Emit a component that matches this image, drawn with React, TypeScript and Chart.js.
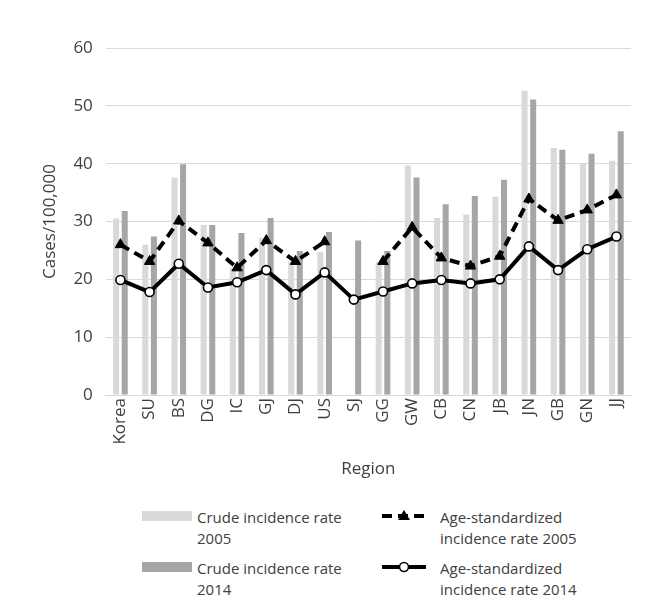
import React, { useEffect, useRef } from "react";
import { Chart, registerables } from "chart.js";

Chart.register(...registerables);

const categories = ["Korea", "SU", "BS", "DG", "IC", "GJ", "DJ", "US", "SJ", "GG", "GW", "CB", "CN", "JB", "JN", "GB", "GN", "JJ"];
const crude2005 = [30.5, 26.0, 37.6, 29.4, 22.0, 27.2, 23.1, 24.7, null, 23.0, 39.7, 30.6, 31.2, 34.3, 52.6, 42.7, 40.1, 40.5];
const crude2014 = [31.8, 27.4, 39.9, 29.4, 28.0, 30.6, 24.9, 28.2, 26.7, 24.9, 37.6, 33.0, 34.4, 37.2, 51.1, 42.4, 41.7, 45.6];
const ageStd2005 = [26.0, 23.1, 30.1, 26.3, 22.0, 26.7, 23.1, 26.5, null, 23.1, 29.0, 23.7, 22.3, 24.0, 33.9, 30.2, 32.0, 34.6];
const ageStd2014 = [19.9, 17.8, 22.7, 18.6, 19.5, 21.6, 17.4, 21.2, 16.5, 17.9, 19.3, 19.9, 19.3, 20.0, 25.7, 21.6, 25.2, 27.4];
const yTicks = [0, 10, 20, 30, 40, 50, 60];
const seriesLabels = ["Crude incidence rate 2005", "Crude incidence rate 2014", "Age-standardized incidence rate 2005", "Age-standardized incidence rate 2014"];

const FONT = "'Open Sans', 'DejaVu Sans', sans-serif";
const TEXT = "#404040";
const LIGHT = "#d9d9d9";
const DARK = "#a6a6a6";

function splitLabel(s: string): [string, string] {
  const i = s.lastIndexOf(" ");
  return [s.slice(0, i), s.slice(i + 1)];
}

export default function App() {
  const ref = useRef<HTMLCanvasElement | null>(null);
  useEffect(() => {
    if (!ref.current) return;
    const chart = new Chart(ref.current, {
      type: "bar",
      data: {
        labels: categories,
        datasets: [
          {
            type: "line",
            label: seriesLabels[2],
            data: ageStd2005,
            borderColor: "#000",
            backgroundColor: "#000",
            borderWidth: 4,
            borderDash: [10, 6],
            pointStyle: "triangle",
            pointRadius: 6,
            pointBorderWidth: 1,
            pointBackgroundColor: "#000",
            spanGaps: false,
            order: 0,
          },
          {
            type: "line",
            label: seriesLabels[3],
            data: ageStd2014,
            borderColor: "#000",
            backgroundColor: "#fff",
            borderWidth: 4,
            pointStyle: "circle",
            pointRadius: 4.5,
            pointBorderWidth: 1.6,
            pointBackgroundColor: "#fff",
            pointBorderColor: "#000",
            order: 0,
          },
          {
            type: "bar",
            label: seriesLabels[0],
            data: crude2005,
            backgroundColor: LIGHT,
            categoryPercentage: 0.59,
            barPercentage: 0.7,
            order: 1,
          },
          {
            type: "bar",
            label: seriesLabels[1],
            data: crude2014,
            backgroundColor: DARK,
            categoryPercentage: 0.59,
            barPercentage: 0.7,
            order: 1,
          },
        ],
      },
      options: {
        animation: false,
        responsive: false,
        maintainAspectRatio: false,
        layout: { padding: { top: 40, right: 12, left: 32, bottom: 10 } },
        plugins: { legend: { display: false }, tooltip: { enabled: false } },
        scales: {
          x: {
            grid: { display: false, drawTicks: false },
            border: { color: "#d9d9d9", width: 1 },
            ticks: {
              color: TEXT,
              font: { family: FONT, size: 17 },
              minRotation: 90,
              maxRotation: 90,
              padding: 3,
              autoSkip: false,
            },
            title: { display: true, text: "Region", color: TEXT, font: { family: FONT, size: 17 }, padding: { top: 11 } },
          },
          y: {
            min: yTicks[0],
            max: yTicks[yTicks.length - 1],
            afterBuildTicks: (axis: any) => {
              axis.ticks = yTicks.map((v) => ({ value: v }));
            },
            grid: { color: "#d9d9d9", lineWidth: 1, drawTicks: false },
            border: { display: false },
            ticks: { color: TEXT, font: { family: FONT, size: 17 }, padding: 13 },
            title: { display: true, text: "Cases/100,000", color: TEXT, font: { family: FONT, size: 17 }, padding: 0 },
          },
        },
      },
    });
    return () => chart.destroy();
  }, []);

  const legendText: React.CSSProperties = {
    position: "absolute",
    fontFamily: FONT,
    fontSize: 15,
    lineHeight: "21px",
    color: TEXT,
  };

  const [l0a, l0b] = splitLabel(seriesLabels[0]);
  const [l1a, l1b] = splitLabel(seriesLabels[1]);
  const r0a = "Age-standardized";
  const r0b = seriesLabels[2].slice(r0a.length + 1);
  const r1b = seriesLabels[3].slice(r0a.length + 1);

  return (
    <div style={{ position: "relative", width: 635, height: 597 }}>
      <canvas ref={ref} width={635} height={485} style={{ display: "block" }} />
      <div style={{ position: "absolute", left: 134, top: 503, width: 50, height: 10, background: LIGHT }} />
      <div style={{ ...legendText, left: 189, top: 499 }}>{l0a}<br />{l0b}</div>
      <div style={{ position: "absolute", left: 134, top: 554, width: 50, height: 10, background: DARK }} />
      <div style={{ ...legendText, left: 189, top: 550 }}>{l1a}<br />{l1b}</div>
      <svg style={{ position: "absolute", left: 373, top: 500 }} width={46} height={16}>
        <line x1={1} y1={8} x2={45} y2={8} stroke="#000" strokeWidth={4} strokeDasharray="10 6" />
        <polygon points="23,2 29,12 17,12" fill="#000" />
      </svg>
      <div style={{ ...legendText, left: 432, top: 499 }}>{r0a}<br />{r0b}</div>
      <svg style={{ position: "absolute", left: 373, top: 551 }} width={46} height={16}>
        <line x1={1} y1={8} x2={45} y2={8} stroke="#000" strokeWidth={4} />
        <circle cx={23} cy={8} r={4.5} fill="#fff" stroke="#000" strokeWidth={1.6} />
      </svg>
      <div style={{ ...legendText, left: 432, top: 550 }}>{r0a}<br />{r1b}</div>
    </div>
  );
}
